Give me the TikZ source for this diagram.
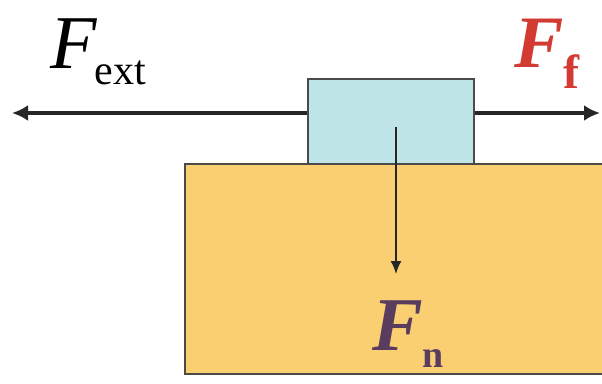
\documentclass[tikz,border=0pt]{standalone}
\usepackage{fontspec}
\setmainfont{Liberation Serif}
\usetikzlibrary{arrows.meta}
\definecolor{boxblue}{HTML}{C0E5E8}
\definecolor{ground}{HTML}{F9CF72}
\definecolor{edge}{HTML}{4A4A48}
\definecolor{fred}{HTML}{D23A32}
\definecolor{fnc}{HTML}{5A3D5E}
\tikzset{
  body/.style={draw=edge, line width=2pt, inner sep=0pt, anchor=north west},
  force/.style={draw=black!85, line width=4.5pt, -{Latex[length=16pt,width=16pt]}},
  thinforce/.style={draw=black!85, line width=1.8pt, -{Latex[length=13pt,width=11pt]}},
  lbl/.style={inner sep=0pt, anchor=base west}
}
\begin{document}
\begin{tikzpicture}[x=1pt,y=-1pt]
\useasboundingbox (0,0) rectangle (602,383);
\fill[white] (0,0) rectangle (602,383);
\node (ground) [body, fill=ground, minimum width=440pt, minimum height=210pt] at (184,163) {};
\node (block) [body, fill=boxblue, minimum width=166pt, minimum height=85pt] at (307,78) {};
\coordinate (L) at (12,113);
\coordinate (R) at (600,113);
\draw[force] (L -| block.west) -- (L);
\draw[force] (R -| block.east) -- (R);
\coordinate (Ntop) at (396,127);
\coordinate (Ntip) at (396,274);
\draw[thinforce] (Ntop) -- (Ntip);
\node (fext) [lbl] at (50,68) {\fontsize{76}{76}\selectfont\itshape F\kern-2pt\raisebox{-16pt}{\fontsize{42}{42}\selectfont\upshape ext}};
\node (ff) [lbl, text=fred] at (514,67) {\fontsize{74}{74}\selectfont\bfseries\itshape F\kern0pt\raisebox{-21pt}{\fontsize{48}{48}\selectfont\upshape f}};
\node (fn) [lbl, text=fnc] at (372,350) {\fontsize{76}{76}\selectfont\bfseries\itshape F\kern0pt\raisebox{-17pt}{\fontsize{38}{38}\selectfont\upshape n}};
\end{tikzpicture}
\end{document}
